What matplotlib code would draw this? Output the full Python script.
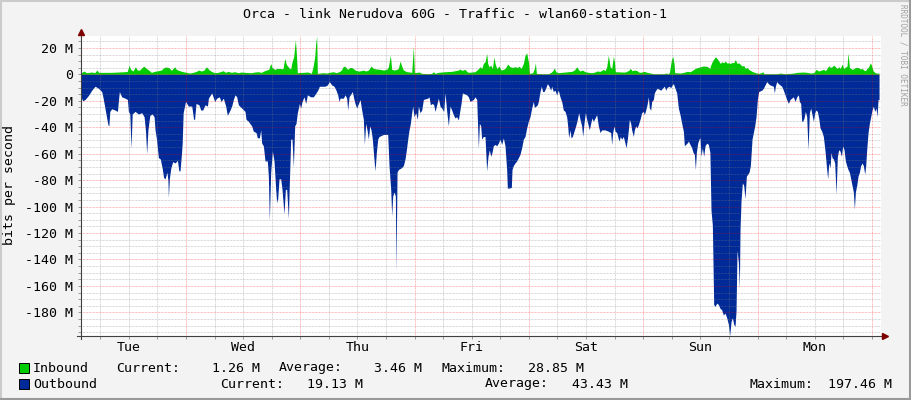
import matplotlib
matplotlib.use('Agg')
import matplotlib.pyplot as plt
from matplotlib.lines import Line2D
from matplotlib.patches import Rectangle

plt.rcParams['font.family'] = 'DejaVu Sans Mono'

# hours since Tue 00:00, values in Mbit/s
in_h = [1.95, 2.02, 2.58, 3.07, 4.26, 4.82, 5.31, 5.66, 6.92, 8.32, 9.72, 11.12, 11.68, 12.03, 12.38,
        12.87, 13.36, 13.78, 14.27, 14.62, 15.11, 15.67, 16.16, 16.72, 17.42, 18.12, 18.82, 19.38, 19.87,
        20.43, 20.92, 21.62, 21.97, 22.67, 23.37, 24.07, 24.77, 25.47, 26.17, 26.66, 27.22, 27.78, 28.27,
        28.76, 29.32, 30.02, 30.72, 31.84, 32.26, 32.82, 33.52, 34.22, 34.92, 35.62, 36.32, 37.72, 38.42,
        39.12, 39.82, 40.17, 40.87, 41.36, 41.78, 42.06, 42.62, 43.18, 44.37, 44.72, 45.07, 45.56, 45.98,
        46.26, 46.61, 46.96, 47.17, 47.38, 48.57, 49.62, 50.32, 50.67, 51.02, 51.23, 51.44, 51.58, 52.77,
        53.47, 54.17, 54.87, 55.57, 56.27, 56.62, 56.97, 57.32,
        57.95, 58.44, 58.93, 59.49, 60.19, 60.75, 61.24, 61.73, 62.29, 62.85, 63.34, 64.04, 64.74, 65.44,
        66.14, 66.49, 66.91, 67.19, 67.75, 68.24, 68.59, 68.94, 69.29, 69.64, 70.34, 71.04, 71.39, 71.74,
        71.95, 72.44, 72.93, 73.49, 74.89, 75.59, 75.94, 76.29, 76.99, 77.69, 78.39, 79.79, 81.19, 81.54,
        81.89, 82.59, 82.94, 83.29, 84.69, 85.25, 85.74, 86.09, 86.44, 86.79, 87.14, 87.35, 87.63, 87.98,
        88.33, 88.68, 88.89, 89.24, 89.73, 90.15, 90.64, 90.99, 91.55, 92.04, 92.53, 93.09, 93.65, 93.93,
        94.35, 94.84, 95.19, 95.54, 95.75, 95.96, 96.1, 96.8, 97.15, 97.36, 97.57, 98.69, 100.09, 100.65,
        101.14, 101.35, 101.63, 102.19, 103.59, 104.99, 105.55, 106.04, 106.39, 106.74, 107.23, 107.79,
        108.49, 109.19, 109.89, 110.24, 110.94, 111.64, 111.99, 112.34, 112.69, 113.04, 113.39, 113.74,
        113.95, 114.15, 115.55, 116.25, 116.95, 117.3, 117.65, 118.21, 118.7, 119.19, 119.75, 120.24,
        120.8, 121.5, 122.2, 124.3, 124.86, 125.21, 125.49, 125.7, 125.91, 126.19, 126.47, 126.61, 127.8,
        128.5, 129.2, 129.9, 130.39, 130.95, 131.51, 132.0, 132.49, 133.05, 133.54, 133.96, 134.31, 134.66,
        135.15, 135.5, 135.85, 136.2, 136.55, 136.9, 137.25, 137.6, 137.95, 138.3, 138.65, 139.0, 139.35,
        139.7, 140.05, 140.4, 140.75, 141.1, 141.45, 141.8, 142.15, 142.85, 143.55, 144.25, 144.81, 145.09,
        145.37, 148.1, 148.8, 149.5, 150.9, 151.6, 152.3, 153.7, 154.4, 155.1, 155.8, 156.29, 156.85,
        157.41, 157.9, 158.25, 158.6, 158.95, 159.3, 159.65, 160.0, 160.35, 160.7, 161.05, 161.4, 161.75,
        162.1, 162.8, 163.01, 163.29, 163.85, 164.2, 164.55, 165.11, 165.6, 165.95, 166.3, 166.65, 167.0,
        167.35, 167.7, 167.91, 168.26, 168.61, 169.1, 169.45]
in_v = [1.0, 1.25, 2.5, 1.25, 1.75, 1.25, 3.25, 1.5, 1.5, 1.5, 1.75, 2.0, 2.25, 7.0, 3.75,
        2.5, 5.75, 3.25, 3.25, 4.5, 6.25, 4.5, 3.25, 1.5, 2.25, 2.75, 3.25, 5.25, 5.5,
        5.0, 3.0, 5.75, 3.75, 2.75, 2.0, 1.5, 1.0, 1.5, 2.25, 3.25, 2.5, 3.25, 5.75,
        3.75, 2.25, 1.25, 1.5, 2.75, 1.5, 2.25, 1.5, 2.0, 1.25, 1.75, 1.5, 1.25, 1.75,
        2.0, 1.5, 2.25, 3.25, 3.75, 8.25, 5.25, 3.75, 4.5, 4.25, 12.0, 7.5, 5.25, 4.0,
        9.5, 13.25, 26.25, 15.75, 1.25, 1.5, 1.75, 0.75, 5.75, 13.25, 23.25, 28.85, 0.75, 1.25,
        1.0, 1.5, 2.0, 1.25, 2.25, 3.25, 5.75, 6.25,
        3.75, 5.25, 5.0, 3.25, 2.5, 2.75, 3.25, 2.5, 3.25, 6.25, 4.5, 4.0, 3.75, 3.25,
        3.75, 5.75, 14.5, 3.75, 3.25, 3.75, 4.5, 10.0, 6.25, 3.25, 2.0, 1.75, 1.5, 21.25,
        1.25, 1.5, 1.75, 0.75, 0.5, 0.75, 2.0, 0.75, 1.5, 1.75, 2.0, 2.25, 3.25, 4.0,
        3.0, 3.75, 2.25, 1.5, 2.0, 3.75, 5.75, 4.5, 8.25, 9.5, 15.75, 8.25, 5.75, 7.0,
        4.5, 13.25, 8.25, 4.5, 6.25, 3.25, 3.75, 4.5, 7.75, 5.75, 5.25, 5.75, 5.25, 6.25,
        4.5, 8.25, 14.5, 16.25, 12.0, 8.25, 0.75, 1.25, 4.5, 8.75, 0.75, 0.5, 0.5, 1.5,
        3.25, 5.0, 2.0, 1.25, 1.75, 2.25, 3.25, 5.75, 3.75, 2.5, 3.25, 2.0,
        1.5, 1.25, 1.75, 2.5, 2.25, 3.75, 2.75, 5.75, 14.5, 5.75, 4.5, 13.75,
        9.5, 2.0, 1.75, 1.75, 3.0, 4.5, 2.75, 3.25, 2.75, 1.5, 1.75, 2.25,
        1.5, 1.0, 0.5, 0.5, 1.0, 0.5, 1.25, 5.75, 10.75, 13.75, 8.25, 1.25, 1.0,
        1.5, 2.25, 2.0, 3.25, 4.5, 5.25, 5.75, 6.25, 6.25, 5.75, 4.5, 8.25, 10.75,
        13.25, 12.0, 10.25, 8.25, 9.5, 8.75, 10.0, 8.5, 8.75, 8.25, 9.0, 8.75, 11.25,
        8.25, 8.75, 7.5, 6.25, 6.75, 4.5, 5.25, 3.75, 2.25, 1.25, 0.75, 1.25, 2.0,
        0.5, 0.5, 1.0, 0.5, 0.75, 1.0, 1.5, 1.75, 1.5, 1.0, 1.25, 3.75, 2.5,
        3.25, 3.75, 2.75, 4.5, 6.5, 5.25, 5.75, 7.0, 5.75, 4.5, 5.75, 4.5, 7.75,
        4.5, 6.25, 16.25, 5.25, 3.75, 4.25, 5.25, 5.25, 4.0, 4.5, 3.25, 2.75, 4.5,
        5.75, 8.75, 7.0, 2.75, 1.5, 0.75, 1.25]

out_h = [1.95, 2.3, 2.8, 3.5, 4.2, 4.9, 5.6, 6.3, 6.6, 6.9, 7.3, 7.6, 7.8, 8.0, 8.4, 9.1, 9.6, 9.8, 10.0,
         10.5, 11.2, 11.7, 11.9, 12.2, 12.45, 12.7, 13.3, 14.0, 14.7, 15.2, 15.5, 15.74, 16.0, 16.4, 16.9,
         17.3, 17.5, 17.8, 18.2, 18.6, 19.0, 19.3, 19.6, 20.0, 20.2, 20.3, 20.5, 20.8, 21.2, 21.7, 22.2,
         22.5, 22.74, 23.0, 23.2, 23.4, 23.9, 24.5, 25.2, 25.6, 25.8, 26.1, 26.7, 27.1, 27.5, 28.0, 28.5,
         28.7, 29.4,
         30.02, 30.44, 31.0, 31.35, 31.84, 32.33, 32.68, 33.24, 33.59, 33.94, 34.29, 34.64, 34.99, 35.69,
         36.39, 36.6, 37.09, 37.79, 38.14, 38.7, 38.98, 39.4, 39.68, 39.89, 40.24, 40.59, 41.08, 41.29,
         41.5, 41.78, 42.13, 42.48, 42.83, 43.04, 43.25, 43.53, 43.88, 44.16, 44.58, 44.86, 45.14, 45.49,
         45.7, 45.98, 46.26, 46.54, 46.82, 47.1, 47.38, 47.8, 48.08, 48.36, 48.78, 49.13, 49.48, 50.18,
         50.74, 51.3, 51.65, 52.0, 53.19, 53.68, 54.1, 54.59, 55.08, 55.5, 55.85, 56.13, 56.34, 57.04,
         57.39, 57.74, 57.95, 58.23, 58.93, 59.21, 59.49, 59.84, 60.54, 60.89, 61.24, 61.45, 61.73, 62.01,
         62.29, 62.57, 62.85, 63.13, 63.41, 63.69, 63.97, 64.25, 64.53, 65.44, 66.35, 66.63, 66.98, 67.19,
         67.4, 67.68, 67.96, 68.1, 68.31, 68.59, 69.29, 69.64, 69.99, 70.27, 70.55, 70.83, 71.11, 71.39,
         71.6, 71.88, 72.23, 72.58, 72.79, 73.14, 73.49, 73.84, 74.75, 75.03, 75.31, 75.73, 76.01, 76.29,
         76.64, 76.99, 77.34, 77.69, 78.11, 78.39, 78.74, 79.09, 79.44, 79.79, 80.14, 80.49, 80.84, 81.19,
         81.47, 81.75, 82.03, 82.94, 83.29, 83.64, 84.34, 84.69, 85.04, 85.39, 85.6, 85.88,
         86.08, 86.43, 86.78, 87.13, 87.41, 87.69, 87.97, 88.25, 88.53, 88.88, 89.23, 89.58, 89.93, 90.28,
         90.63, 90.98, 91.33, 91.47, 91.89, 92.31, 92.45, 92.73, 93.08, 93.43, 93.78, 94.13, 94.48, 94.83,
         95.18, 95.53, 95.88, 96.23, 96.58, 96.93, 97.14, 97.49, 97.77, 97.98, 98.33, 98.61, 98.89, 99.17,
         99.52, 99.87, 100.22, 100.57, 100.78, 101.13, 101.48, 101.83, 102.18, 102.53, 102.88, 103.23,
         103.58, 103.93, 104.14, 104.35, 104.63, 104.84, 105.12, 105.47, 105.82, 106.17, 106.45, 106.73,
         107.08, 107.29, 107.57, 107.85, 108.13, 108.48, 108.69, 108.97, 109.25, 109.53, 109.88, 110.23,
         110.58, 110.93, 111.28, 111.98, 112.68, 113.17, 113.38, 113.59, 113.87,
         114.08, 114.43, 114.92, 115.2, 115.48, 115.83, 116.18, 116.39, 116.67, 116.88, 117.09, 117.37,
         117.58, 117.93, 118.14, 118.42, 118.7, 118.98, 119.33, 119.68, 120.03, 120.24, 120.52, 120.8,
         121.08, 121.29, 121.57, 121.78, 122.13, 122.34, 122.62, 122.97, 123.67, 124.02, 124.44, 124.72,
         124.99, 125.42, 125.77, 126.12, 126.33, 126.68, 127.03, 127.38, 127.73, 128.08, 128.43, 128.64,
         128.92, 129.2, 129.48, 129.83, 130.18, 130.46, 130.74, 130.95, 131.16, 131.44, 131.72, 131.93,
         132.14, 132.42, 132.7, 132.98, 133.33, 133.68, 134.0, 134.24, 134.52, 134.8, 135.08, 135.43,
         135.78, 136.13, 136.48, 136.83, 137.18, 137.53, 137.88, 138.16, 138.44, 138.72, 139.0, 139.28,
         139.49, 139.7, 139.98, 140.19, 140.33, 140.54, 140.82, 141.1, 141.38, 141.66, 141.94, 142.22,
         142.5,
         142.85, 143.13, 143.41, 143.69, 143.97, 144.25, 144.88, 145.23, 145.58, 145.93, 146.28, 146.63,
         147.33, 147.54, 147.75, 148.03, 148.38, 148.73, 149.08, 149.43, 149.78, 150.13, 150.48, 150.83,
         151.18, 151.53, 151.88, 152.23, 152.58, 152.79, 153.07, 153.28, 153.49, 153.77, 154.05, 154.33,
         154.61, 154.89, 155.17, 155.45, 155.73, 156.01, 156.29, 156.57, 156.85, 157.13, 157.48, 157.83,
         158.18, 158.53, 158.74, 158.95, 159.23, 159.44, 159.65, 159.93, 160.21, 160.49, 160.77, 161.05,
         161.33, 161.61, 161.89, 162.17, 162.45, 162.73, 163.01, 163.29, 163.57, 163.85, 164.13, 164.34,
         164.55, 164.83, 165.11, 165.39, 165.67, 165.95, 166.23, 166.51, 166.72, 166.93, 167.21, 167.49,
         167.77, 168.05, 168.33, 168.61, 168.89, 169.1, 169.31, 169.52]
out_v = [17, 20, 19, 16, 12, 9, 10.5, 13, 18, 24, 32, 38, 39, 28, 26, 27, 28, 20, 13,
         17, 18, 19, 28, 30, 56, 30, 28, 30, 29, 32, 43, 60, 42, 31, 30,
         32, 42, 49, 63, 64, 71, 78, 79, 74, 80, 93, 79, 71, 66, 67, 65,
         73, 73, 62, 52, 29, 20.5, 24, 24, 34, 34, 22, 23, 27, 27, 23, 24,
         18, 14,
         20.5, 18, 17, 20.5, 18, 24, 31, 27, 24, 19, 15.5, 17, 23, 25.5,
         28, 34, 35.5, 39, 43, 44, 48, 48, 42, 52, 54, 65.5, 65.5, 77,
         110.5, 74, 58, 65.5, 87, 97, 94, 79, 79, 87, 105.5, 87, 87, 109,
         82, 49, 49, 70, 39, 37, 29, 22, 25.5, 20.5, 17, 22, 15.5, 17,
         17, 14, 12, 9, 9, 8, 5.5, 8, 9, 12, 15.5, 20.5, 18, 18,
         15.5, 18, 27, 17, 13, 18, 22, 25.5, 19, 27, 34, 53, 37, 42,
         49, 39, 42, 49, 62, 73, 59, 49, 47, 45.5, 45.5, 69, 87, 107,
         92, 89, 92, 149, 74, 72, 70.5, 69, 64, 57, 49, 42, 37, 29,
         24, 32, 29, 34, 24, 29, 27, 19, 18, 17, 23, 22, 23, 28,
         23, 18, 24, 25.5, 28, 14, 28, 39, 24, 27, 30.5, 33, 32, 34.5,
         28, 22, 14, 15.5, 17, 20.5, 19, 17, 19, 56, 37, 39,
         49, 47, 47, 73, 62, 57, 62, 59, 54, 53, 54, 52, 49, 53,
         48, 54, 72, 86, 86, 85.5, 72, 69, 67, 65.5, 63, 60.5, 55.5, 49,
         47, 40.5, 35.5, 32, 25.5, 20.5, 25, 24, 23, 20.5, 13, 9, 13, 13,
         10.5, 7, 9, 12, 9, 13, 12, 15.5, 12, 17, 20.5, 27,
         28, 32, 39, 48, 42, 48, 47, 43, 39, 34, 29, 34,
         39, 47, 37, 29, 34, 39, 42, 37, 33, 35.5, 33, 30.5,
         39, 44, 42, 42, 43, 44, 53, 44, 39,
         43, 44, 50.5, 47, 49, 47, 52, 55.5, 49, 42, 34, 37,
         42, 47, 42, 39, 40.5, 38, 34, 29, 28, 30.5, 27, 23,
         17, 25.5, 27, 20.5, 19, 14, 12, 10.5, 12, 10.5, 9, 12,
         10, 9, 10, 8, 7, 10.5, 14, 25.5, 30.5, 37, 43, 54,
         53, 52, 50.5, 53, 55.5, 59, 60.5, 72, 59, 52, 49, 48,
         62, 55.5, 62, 54, 52, 53, 59, 103, 114, 174, 175.5, 173,
         174, 177, 178, 182, 180.5, 184, 189, 197.46, 187, 184, 189, 190.5,
         179, 133, 142, 162, 117, 95.5, 82, 84, 94, 77, 75.5, 74,
         69,
         49, 44, 39, 32, 19, 13, 12, 10.5, 8, 5.5, 7, 8,
         9, 14, 9, 5.5, 7, 8, 9, 12, 15.5, 19, 22, 19,
         18, 17, 20.5, 17, 15.5, 20.5, 22, 35.5, 35.5, 33, 28, 32,
         57, 29, 25.5, 30.5, 35.5, 29, 27, 28, 33, 40.5, 43, 47,
         58, 72, 79, 67, 70.5, 59, 63, 64, 67, 90.5, 62, 57,
         58, 62, 54, 57, 65.5, 69, 72, 74, 79, 84, 89, 102,
         89, 84, 77, 74, 69, 67, 69, 75.5, 69, 57, 44, 37,
         32, 27, 24, 28, 25.5, 32, 19, 19.13]

day_names = ['Tue', 'Wed', 'Thu', 'Fri', 'Sat', 'Sun', 'Mon']
day_noon = [12, 36, 60, 84, 108, 132, 156]
y_ticks = [20, 0, -20, -40, -60, -80, -100, -120, -140, -160, -180]
stat_names = ['Current:', 'Average:', 'Maximum:']
in_stats = [1.26, 3.46, 28.85]
out_stats = [19.13, 43.43, 197.46]

W, H = 911, 400
fig = plt.figure(figsize=(W / 100, H / 100), dpi=100, facecolor='#F3F3F3')

def fx(px):
    return px / W

def fy(py):
    return 1 - py / H

ax = fig.add_axes([fx(81), fy(335.5), fx(800), 299.5 / H], facecolor='white')
ax.set_xlim(1.95, 169.93)
ax.set_ylim(-197.5, 29)

ax.fill_between(in_h, 0, in_v, color='#00CC00', lw=0, zorder=2)
ax.fill_between(out_h, 0, [-v for v in out_v], color='#002A97', lw=0, zorder=2)

dots = (0, (0.72, 0.72))
for h in range(6, 170, 6):
    if h % 24 == 0:
        ax.axvline(h, color=(1, 0, 0, 0.35), lw=0.72, ls=dots, zorder=3)
    else:
        ax.axvline(h, color=(0.5, 0.5, 0.5, 0.4), lw=0.72, ls=dots, zorder=3)
for v in range(-195, 30, 5):
    if v % 20 == 0:
        ax.axhline(v, color=(1, 0, 0, 0.35), lw=0.72, ls=dots, zorder=3)
    else:
        ax.axhline(v, color=(0.5, 0.5, 0.5, 0.4), lw=0.72, ls=dots, zorder=3)

for s in ax.spines.values():
    s.set_visible(False)

ax.xaxis.remove_overlapping_locs = False
ax.yaxis.remove_overlapping_locs = False
ax.set_xticks(day_noon)
ax.set_xticklabels(day_names)
ax.set_xticks(range(6, 170, 6), minor=True)
ax.set_yticks(y_ticks)
ax.set_yticklabels([('%d M' % v) if v != 0 else '0' for v in y_ticks])
ax.set_yticks(range(-195, 30, 5), minor=True)
ax.tick_params(axis='both', which='major', length=0, labelsize=9.5)
ax.tick_params(axis='x', which='major', pad=4)
ax.tick_params(axis='y', which='major', pad=5.5)
ax.tick_params(axis='both', which='minor', length=2, width=0.7, color='#9A9A9A')

# axis lines with arrows
axis_col = '#404040'
arrow_col = '#7F0000'
fig.add_artist(Line2D([fx(77), fx(884)], [fy(335.5), fy(335.5)], color=axis_col, lw=0.8))
fig.add_artist(Line2D([fx(80.5), fx(80.5)], [fy(339), fy(33)], color=axis_col, lw=0.8))
fig.add_artist(Line2D([fx(885)], [fy(335.5)], marker='>', ms=5, color=arrow_col, mec=arrow_col))
fig.add_artist(Line2D([fx(80.5)], [fy(32)], marker='^', ms=5, color=arrow_col, mec=arrow_col))

# frame shading
fig.add_artist(Line2D([0, 1], [fy(1), fy(1)], color='#CBCBCB', lw=1.5))
fig.add_artist(Line2D([fx(1), fx(1)], [0, 1], color='#CBCBCB', lw=1.5))
fig.add_artist(Line2D([0, 1], [fy(399), fy(399)], color='#999999', lw=1.5))
fig.add_artist(Line2D([fx(910), fx(910)], [0, 1], color='#999999', lw=1.5))

fig.text(fx(455), fy(14), 'Orca - link Nerudova 60G - Traffic - wlan60-station-1',
         ha='center', va='center', fontsize=9.5)
fig.text(fx(10), fy(185), 'bits per second', rotation=90, ha='center', va='center', fontsize=9.5)
fig.text(fx(903), fy(4), 'RRDTOOL / TOBI OETIKER', rotation=270, ha='center', va='top',
         fontsize=5.5, color='#A0A0A0')

# legend
rows = [('Inbound', '#00CC00', in_stats, 368, [116, 279, 441], [260, 422, 584]),
        ('Outbound', '#002A97', out_stats, 384, [220, 485, 750], [363, 628, 892])]
for name, col, stats, yc, lx, rx in rows:
    fig.add_artist(Rectangle((fx(19), fy(yc + 5)), 10 / W, 10 / H, facecolor=col,
                             edgecolor='black', lw=0.7))
    fig.text(fx(33), fy(yc), name, ha='left', va='center', fontsize=9.5)
    for lab, val, x0, x1 in zip(stat_names, stats, lx, rx):
        fig.text(fx(x0), fy(yc), lab, ha='left', va='center', fontsize=9.5)
        fig.text(fx(x1), fy(yc), '%.2f M' % val, ha='right', va='center', fontsize=9.5)

fig.savefig('out.png', dpi=100, facecolor=fig.get_facecolor())
